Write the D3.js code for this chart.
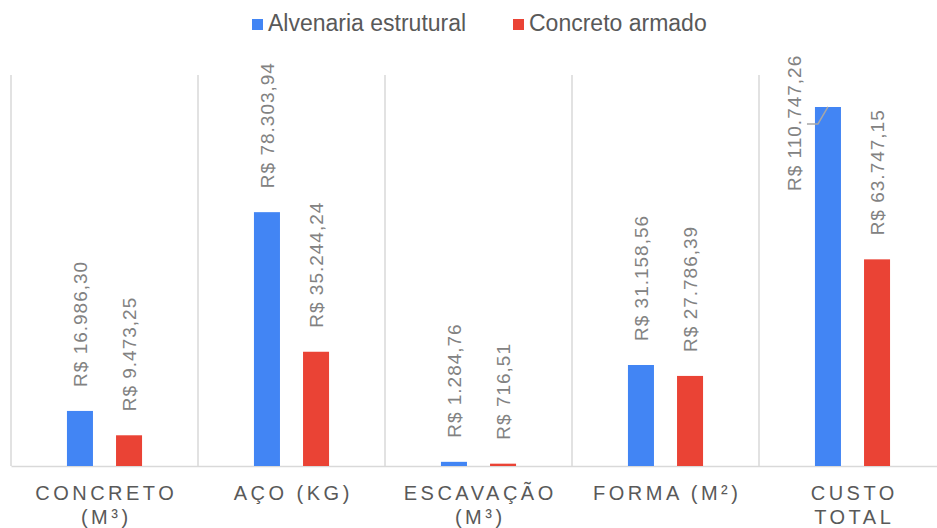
<!DOCTYPE html>
<html>
<head>
<meta charset="utf-8">
<script src="https://cdn.jsdelivr.net/npm/d3@7"></script>
<style>
  html, body { margin: 0; padding: 0; background: #ffffff; }
  svg { display: block; font-family: "Liberation Sans", Arial, sans-serif; }
</style>
</head>
<body>
<svg id="chart" width="937" height="528"></svg>
<script>
// Cost comparison per service: structural masonry vs reinforced concrete
const categoryLines = [["CONCRETO", "(M³)"], ["AÇO (KG)"], ["ESCAVAÇÃO", "(M³)"], ["FORMA (M²)"], ["CUSTO", "TOTAL"]];
const seriesNames = ["Alvenaria estrutural", "Concreto armado"];
const alvenariaValues = [16986.30, 78303.94, 1284.76, 31158.56, 110747.26];
const concretoValues = [9473.25, 35244.24, 716.51, 27786.39, 63747.15];
const seriesColors = ["#4285F4", "#EA4335"];

const W = 937, H = 528;
const plot = { left: 11, right: 946, top: 75, bottom: 466 };

const brl = d3.formatLocale({ decimal: ",", thousands: ".", grouping: [3], currency: ["R$ ", ""] });
const fmt = brl.format("$,.2f");

const svg = d3.select("#chart");

const idx = d3.range(categoryLines.length);
const x = d3.scaleBand().domain(idx).range([plot.left, plot.right]).padding(0);
const xs = d3.scaleBand().domain([0, 1]).range([0, x.bandwidth()]).paddingInner(0.47).paddingOuter(1.14);
const y = d3.scaleLinear().domain([0, 120000]).range([plot.bottom, plot.top + 2]);

// Category separators
svg.append("g").selectAll("line")
  .data(d3.range(categoryLines.length + 1))
  .join("line")
  .attr("x1", i => plot.left + i * x.step())
  .attr("x2", i => plot.left + i * x.step())
  .attr("y1", plot.top).attr("y2", plot.bottom)
  .attr("stroke", "#d9d9d9").attr("stroke-width", 1.5);

// Category axis
const xAxis = svg.append("g")
  .attr("transform", `translate(0,${plot.bottom})`)
  .call(d3.axisBottom(x).tickSize(0).tickFormat(""));
xAxis.select(".domain").attr("stroke", "#d9d9d9").attr("stroke-width", 1.5);
xAxis.selectAll(".tick text").remove();
xAxis.selectAll(".tick").each(function (i) {
  const t = d3.select(this).append("text")
    .attr("fill", "#595959")
    .attr("font-size", 20)
    .attr("letter-spacing", "3.5px")
    .attr("text-anchor", "middle");
  categoryLines[i].forEach((line, k) => {
    t.append("tspan").attr("x", 1.75).attr("y", 34 + k * 24).text(line);
  });
});

// Bars
const series = [alvenariaValues, concretoValues];
const barData = [];
series.forEach((vals, s) => vals.forEach((v, i) => barData.push({ s, i, v })));

svg.append("g").selectAll("rect")
  .data(barData)
  .join("rect")
  .attr("x", d => x(d.i) + xs(d.s))
  .attr("width", xs.bandwidth())
  .attr("y", d => y(d.v))
  .attr("height", d => plot.bottom - y(d.v))
  .attr("fill", d => seriesColors[d.s]);

// Value labels, rotated; the tallest label is moved aside with a leader line
const labelGap = 24;
const moved = { s: 0, i: 4, dx: -34, dy: 108 };
const isMoved = d => d.s === moved.s && d.i === moved.i;

svg.append("g").selectAll("text")
  .data(barData)
  .join("text")
  .attr("transform", d => {
    let cx = x(d.i) + xs(d.s) + xs.bandwidth() / 2;
    let cy = y(d.v) - labelGap;
    if (isMoved(d)) { cx += moved.dx; cy += moved.dy; }
    return `translate(${cx},${cy}) rotate(-90)`;
  })
  .attr("dy", "0.36em")
  .attr("font-size", 19)
  .attr("letter-spacing", "1px")
  .attr("fill", "#828282")
  .text(d => fmt(d.v));

barData.filter(isMoved).forEach(d => {
  const cx = x(d.i) + xs(d.s) + xs.bandwidth() / 2;
  const cy = y(d.v);
  svg.append("path")
    .attr("d", d3.line()([[cx, cy], [cx - 10, cy + 17], [cx - 21, cy + 17]]))
    .attr("fill", "none")
    .attr("stroke", "#a6a6a6")
    .attr("stroke-width", 1.5);
});

// Legend
const legend = svg.append("g").attr("font-size", 23).attr("fill", "#595959");
const legendX = [252, 513];
seriesNames.forEach((name, s) => {
  const g = legend.append("g").attr("transform", `translate(${legendX[s]},0)`);
  g.append("rect").attr("x", 0).attr("y", 19).attr("width", 11).attr("height", 11).attr("fill", seriesColors[s]);
  g.append("text").attr("x", 16).attr("y", 31).text(name);
});
</script>
</body>
</html>
